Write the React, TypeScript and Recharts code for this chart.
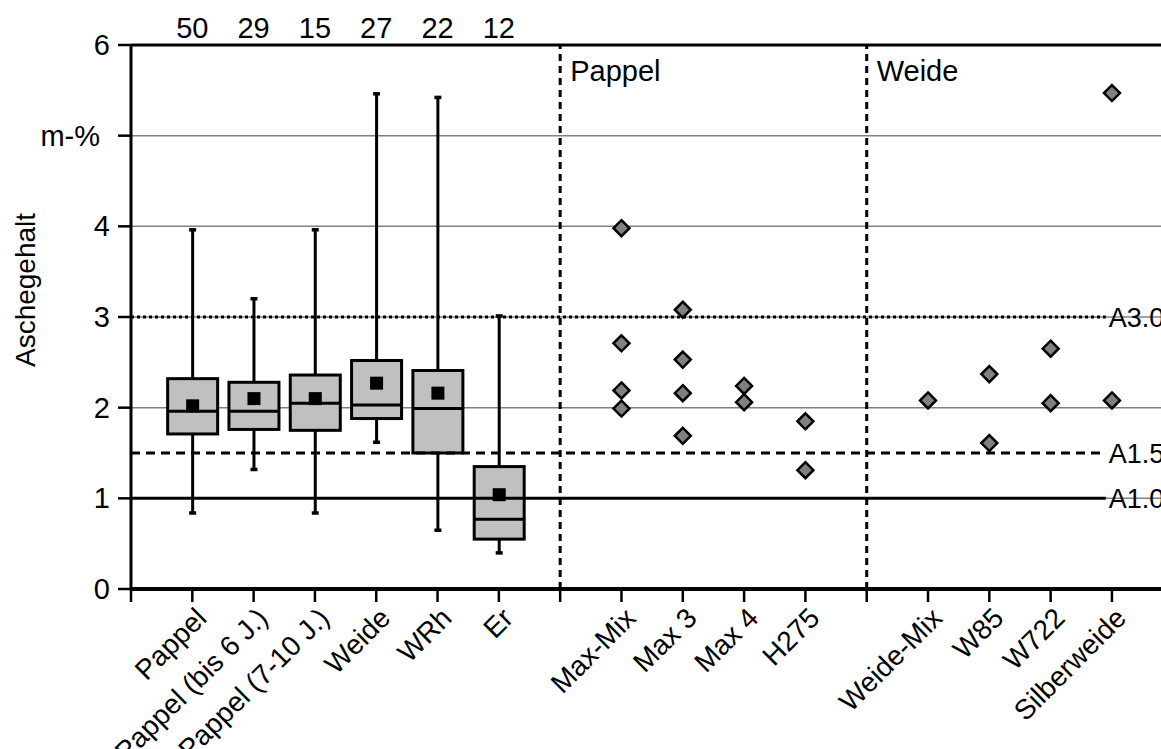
import React from 'react';
import { ComposedChart, Bar, Scatter, XAxis, YAxis, CartesianGrid, ReferenceLine } from 'recharts';

const FONT = '"Liberation Sans", Arial, sans-serif';

// x-axis slots (0, 7, 12 are empty separator slots)
const categories = ['', 'Pappel', 'Pappel (bis 6 J.)', 'Pappel (7-10 J.)', 'Weide', 'WRh', 'Er', '', 'Max-Mix', 'Max 3', 'Max 4', 'H275', '', 'Weide-Mix', 'W85', 'W722', 'Silberweide'];
const xTicks = [0, 1, 2, 3, 4, 5, 6, 7, 8, 9, 10, 11, 12, 13, 14, 15, 16];
const yTicks = [0, 1, 2, 3, 4, 5, 6];

// box plots
const boxX = [1, 2, 3, 4, 5, 6];
const whiskerLow = [0.83, 1.31, 0.83, 1.61, 0.64, 0.39];
const q1 = [1.71, 1.76, 1.75, 1.88, 1.5, 0.55];
const median = [1.96, 1.96, 2.05, 2.03, 1.99, 0.77];
const q3 = [2.32, 2.28, 2.36, 2.52, 2.41, 1.35];
const whiskerHigh = [3.97, 3.21, 3.97, 5.47, 5.43, 3.02];
const mean = [2.02, 2.1, 2.1, 2.27, 2.16, 1.04];
const counts = [50, 29, 15, 27, 22, 12];

// single clone values
const cloneX = [8, 8, 8, 8, 9, 9, 9, 9, 10, 10, 11, 11, 13, 14, 14, 15, 15, 16, 16];
const cloneY = [3.98, 2.71, 2.19, 1.99, 3.08, 2.53, 2.16, 1.69, 2.24, 2.06, 1.85, 1.31, 2.08, 2.37, 1.61, 2.65, 2.05, 5.47, 2.08];

// limits
const limitValues = [3.0, 1.5, 1.0];
const limitLabels = ['A3.0', 'A1.5', 'A1.0'];
const limitEnd = 15.9;

const boxData = boxX.map((x, i) => ({
  x,
  low: whiskerLow[i],
  high: whiskerHigh[i],
  q1: q1[i],
  med: median[i],
  q3: q3[i],
  mean: mean[i],
}));
const cloneData = cloneX.map((x, i) => ({ x, y: cloneY[i] }));
const countData = boxX.map((x, i) => ({ x, y: 6, n: counts[i] }));

const BoxShape = (props: any) => {
  const { x, y, width, height, payload } = props;
  if (x == null || payload == null) return null;
  const hi = payload.high;
  const lo = payload.low;
  const pix = (v: number) => y + (height * (hi - v)) / (hi - lo);
  const cx = x + width / 2;
  const bw = 50;
  const top = pix(payload.q3);
  const bot = pix(payload.q1);
  const m = pix(payload.mean);
  return (
    <g>
      <line x1={cx} x2={cx} y1={pix(hi)} y2={pix(lo)} stroke="#000" strokeWidth={3} />
      <rect x={cx - 3.5} y={pix(hi) - 1} width={7} height={3.5} fill="#000" />
      <rect x={cx - 3.5} y={pix(lo) - 2.5} width={7} height={3.5} fill="#000" />
      <rect x={cx - bw / 2} y={top} width={bw} height={bot - top} fill="#C0C0C0" stroke="#000" strokeWidth={3} />
      <line x1={cx - bw / 2} x2={cx + bw / 2} y1={pix(payload.med)} y2={pix(payload.med)} stroke="#000" strokeWidth={3} />
      <rect x={cx - 6.5} y={m - 6.5} width={13} height={13} fill="#000" />
    </g>
  );
};

const Diamond = (props: any) => {
  const { cx, cy } = props;
  const h = 8;
  return (
    <polygon
      points={`${cx},${cy - h} ${cx + h},${cy} ${cx},${cy + h} ${cx - h},${cy}`}
      fill="#808080"
      stroke="#000"
      strokeWidth={2.5}
    />
  );
};

const CountLabel = (props: any) => {
  const { cx, cy, payload } = props;
  return (
    <text x={cx} y={cy - 7} textAnchor="middle" fontSize={29} fontFamily={FONT} fill="#000">
      {payload.n}
    </text>
  );
};

const XTick = (props: any) => {
  const { x, y, payload } = props;
  const label = categories[payload.value] || '';
  if (!label) return null;
  return (
    <text
      x={x}
      y={y}
      transform={`rotate(-45 ${x} ${y})`}
      textAnchor="end"
      dy="0.8em"
      fontSize={28}
      fontFamily={FONT}
      fill="#000"
    >
      {label}
    </text>
  );
};

const YTick = (props: any) => {
  const { x, y, payload } = props;
  const v = payload.value;
  const label = v === 5 ? 'm-%' : String(v);
  return (
    <text x={v === 5 ? x - 10 : x} y={y} textAnchor="end" dominantBaseline="central" fontSize={29} fontFamily={FONT} fill="#000">
      {label}
    </text>
  );
};

const sectionLabel = (text: string) => (props: any) => {
  const vb = props.viewBox || {};
  return (
    <text x={vb.x + 10} y={vb.y + 36} fontSize={29} fontFamily={FONT} fill="#000">
      {text}
    </text>
  );
};

const yTitle = (props: any) => {
  const vb = props.viewBox || {};
  const cx = 35;
  const cy = vb.y + vb.height / 2 - 27;
  return (
    <text x={cx} y={cy} transform={`rotate(-90 ${cx} ${cy})`} textAnchor="middle" fontSize={28} fontFamily={FONT} fill="#000">
      Aschegehalt
    </text>
  );
};

const limitStyles = [
  { stroke: '#000', strokeWidth: 3, strokeDasharray: '3 3' },
  { stroke: '#000', strokeWidth: 3, strokeDasharray: '9 6' },
  { stroke: '#000', strokeWidth: 3 },
];

export default function App() {
  return (
    <div style={{ position: 'absolute', left: 0, top: 0, width: 1161, height: 749, background: '#fff' }}>
      <ComposedChart
        width={1161}
        height={749}
        data={boxData}
        margin={{ top: 45, right: 0, bottom: 0, left: 0 }}
        style={{ fontFamily: FONT }}
      >
        <CartesianGrid horizontal vertical={false} stroke="#808080" strokeWidth={1.5} />
        <XAxis
          type="number"
          dataKey="x"
          domain={[0, 16.8]}
          ticks={xTicks}
          interval={0}
          tick={<XTick />}
          tickLine={{ stroke: '#000', strokeWidth: 2.5 }}
          axisLine={{ stroke: '#000', strokeWidth: 4 }}
          tickSize={13}
          tickMargin={2}
          height={160}
        />
        <YAxis
          type="number"
          domain={[0, 6]}
          ticks={yTicks}
          interval={0}
          width={131}
          tick={<YTick />}
          tickLine={{ stroke: '#000', strokeWidth: 2.5 }}
          axisLine={{ stroke: '#000', strokeWidth: 3 }}
          tickSize={13}
          tickMargin={8}
          label={{ content: yTitle }}
        />
        <ReferenceLine y={6} stroke="#000" strokeWidth={3} />
        {limitValues.map((v, i) => (
          <ReferenceLine
            key={limitLabels[i]}
            segment={[{ x: 0, y: v }, { x: limitEnd, y: v }]}
            {...limitStyles[i]}
            label={{ value: limitLabels[i], position: 'right', offset: 3, fontSize: 27, fill: '#000', fontFamily: FONT }}
          />
        ))}
        <ReferenceLine x={7} stroke="#000" strokeWidth={3} strokeDasharray="7 5" label={{ content: sectionLabel('Pappel') }} />
        <ReferenceLine x={12} stroke="#000" strokeWidth={3} strokeDasharray="7 5" label={{ content: sectionLabel('Weide') }} />
        <Bar dataKey={(d: any) => [d.low, d.high]} barSize={50} shape={<BoxShape />} isAnimationActive={false} />
        <Scatter data={cloneData} dataKey="y" shape={<Diamond />} isAnimationActive={false} />
        <Scatter data={countData} dataKey="y" shape={<CountLabel />} isAnimationActive={false} />
      </ComposedChart>
    </div>
  );
}
